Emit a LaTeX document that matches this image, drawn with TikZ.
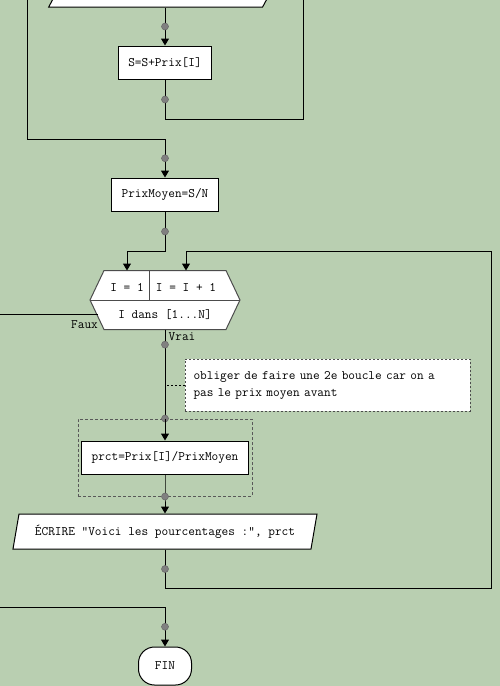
\documentclass[tikz,border=0pt]{standalone}
\usepackage{fontspec}
\setmonofont{Latin Modern Mono}
\usetikzlibrary{positioning,arrows.meta,shapes.geometric}

\definecolor{fond}{RGB}{185,207,177}
\definecolor{gris}{RGB}{128,128,128}

\tikzset{
  texte/.style={font=\ttfamily\fontsize{12.95}{17}\selectfont, text=black},
  instr/.style={texte, draw, fill=white, minimum height=33pt, inner xsep=10pt},
  lire/.style={instr, trapezium, trapezium left angle=74, trapezium right angle=106,
    trapezium stretches=true, minimum height=35pt},
  fin/.style={instr, rounded corners=16pt, minimum width=53pt, minimum height=38pt},
  note/.style={texte, draw=black!70, fill=white, dash pattern=on 2pt off 2pt,
    align=left, text width=268pt, inner xsep=8.5pt, minimum height=52pt},
  groupe/.style={draw=black!65, dash pattern=on 3pt off 2pt,
    minimum width=174pt, minimum height=77pt},
  jonction/.style={circle, fill=gris, draw=black!60, line width=0.5pt,
    inner sep=0pt, minimum size=7pt},
}

\begin{document}
\begin{tikzpicture}[x=1pt, y=-1pt, node distance=1cm, on grid, line width=1pt,
    >={Triangle[width=8pt,length=7pt]}]
  \fill[fond] (0,0) rectangle (500,686);
  \useasboundingbox (0,0) rectangle (500,686);

  % premiere boucle, coupee en haut
  \node[lire, minimum width=233pt] (lecture) at (165,-10.5) {};
  \node[instr] (somme) at (165,62.5) {S=S+Prix[I]};
  \node[instr, below=132pt of somme] (moyenne) {PrixMoyen=S/N};
  \coordinate (retour1) at (303,-12);
  \coordinate (sortie1) at (27,-12);
  \coordinate (coude1) at (165,139);

  \draw[->] (lecture) -- node[jonction] {} (somme);
  \draw (somme.south) -- node[jonction] {} ++(0,40) -| (retour1);
  \draw[->] (sortie1) |- (coude1) -- node[jonction] {} (moyenne);

  % boucle pour
  \node[below=105.5pt of moyenne, minimum width=149pt, minimum height=58pt] (boucle) {};
  \draw[fill=white, draw=black!70] (boucle.west) -- ([xshift=14pt]boucle.north west)
    -- ([xshift=-14pt]boucle.north east) -- (boucle.east)
    -- ([xshift=-14pt]boucle.south east) -- ([xshift=14pt]boucle.south west) -- cycle;
  \draw[black!70] (boucle.west) -- (boucle.east)
    ([xshift=-16pt]boucle.north) -- ([xshift=-16pt]boucle.center);
  \node[texte] (init) at (127,287.5) {I = 1};
  \node[texte] (incr) at (186,287.5) {I = I + 1};
  \node[texte] (cond) at (165,315) {I dans [1...N]};
  \node[texte] (lfaux) at (84.5,325) {Faux};
  \node[texte] (lvrai) at (182,337) {Vrai};

  \node[note] (note) at (327.5,385) {obliger de faire une 2e boucle car on a\\pas le prix moyen avant};
  \node[groupe, below=157.5pt of boucle] (groupe) {};
  \node[instr] (prct) at (groupe) {prct=Prix[I]/PrixMoyen};
  \node[lire, below=74pt of prct, minimum width=305pt] (ecrire) {ÉCRIRE "Voici les pourcentages :", prct};
  \node[fin, below=134.5pt of ecrire] (fin) {FIN};

  \coordinate (coude2) at (491,251);
  \coordinate (sortie2) at (97.7,314);
  \coordinate (gauche) at (-12,314);
  \coordinate (coude3) at (165,607);

  \draw[->] (moyenne.south) -- node[jonction] {} ++(0,40) -| (init |- boucle.north);
  \draw (boucle.south) -- node[jonction, pos=0.17] {} (groupe.north) node[jonction] {};
  \draw[->] (groupe.north) -- (prct);
  \draw[dash pattern=on 2pt off 2pt] (note.west) -- (note.west -| boucle.south);
  \draw[->] (prct) -- (groupe.south) node[jonction] {} -- (ecrire);
  \draw[->] (ecrire.south) -- node[jonction] {} ++(0,39) -| (coude2) -| (incr |- boucle.north);
  \draw[->] (sortie2) -- (gauche) |- (coude3) -- node[jonction] {} (fin);
\end{tikzpicture}
\end{document}
